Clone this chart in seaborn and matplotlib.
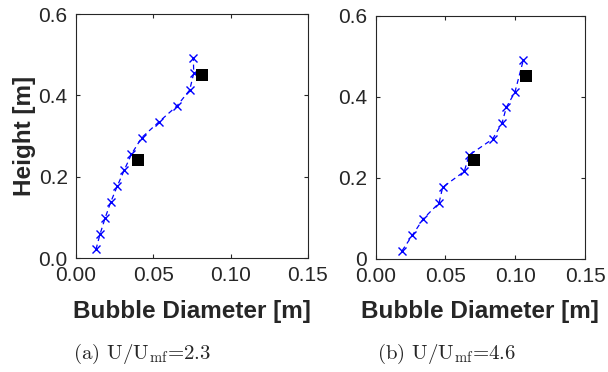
import numpy as np
import pandas as pd
import matplotlib
matplotlib.use("Agg")
import matplotlib.pyplot as plt
import seaborn as sns

# Panel (a) U/Umf = 2.3 : simulation (crosses)
sim_a_d = [0.0129, 0.0155, 0.0188, 0.0224, 0.0267, 0.0312, 0.0358, 0.0425, 0.0534, 0.0653, 0.0735, 0.0761, 0.0759]
sim_a_h = [0.021, 0.058, 0.098, 0.137, 0.177, 0.216, 0.255, 0.296, 0.334, 0.374, 0.413, 0.454, 0.491]
# Panel (a) experiment (squares)
exp_a_d = [0.0403, 0.0813]
exp_a_h = [0.241, 0.450]

# Panel (b) U/Umf = 4.6
sim_b_d = [0.0189, 0.0262, 0.0341, 0.0454, 0.0480, 0.0635, 0.0669, 0.0838, 0.0905, 0.0936, 0.0998, 0.1058]
sim_b_h = [0.019, 0.057, 0.098, 0.137, 0.176, 0.215, 0.255, 0.295, 0.334, 0.373, 0.411, 0.490]
exp_b_d = [0.0707, 0.1075]
exp_b_h = [0.243, 0.450]

x_ticks = [0.00, 0.05, 0.10, 0.15]
x_ticklabels = ["0.00", "0.05", "0.10", "0.15"]
y_ticks = [0.0, 0.2, 0.4, 0.6]
y_ticklabels_a = ["0.0", "0.2", "0.4", "0.6"]
y_ticklabels_b = ["0", "0.2", "0.4", "0.6"]
captions = ["(a) U/U$_{\\rm mf}$=2.3", "(b) U/U$_{\\rm mf}$=4.6"]

sns.set_style("ticks")
plt.rcParams['font.family'] = ['Liberation Sans', 'DejaVu Sans']
plt.rcParams['mathtext.fontset'] = 'cm'

TXT = "#262626"
fig = plt.figure(figsize=(6.08, 3.72), dpi=100)
ax_a = fig.add_axes([76/608, 1-258/372, 232/608, 244/372])
ax_b = fig.add_axes([375.7/608, 1-258.5/372, 209.3/608, 243/372])

panels = [
    (ax_a, sim_a_d, sim_a_h, exp_a_d, exp_a_h, y_ticklabels_a),
    (ax_b, sim_b_d, sim_b_h, exp_b_d, exp_b_h, y_ticklabels_b),
]

for ax, sd, sh, ed, eh, ytl in panels:
    sim = pd.DataFrame({"d": sd, "h": sh})
    exp = pd.DataFrame({"d": ed, "h": eh})
    sns.lineplot(data=sim, x="d", y="h", sort=False, ax=ax, color=(0, 0, 1),
                 linestyle=(0, (4, 3)), linewidth=0.9, marker="x", markersize=6,
                 markeredgewidth=1.0, markeredgecolor=(0, 0, 1))
    sns.scatterplot(data=exp, x="d", y="h", ax=ax, color="black", marker="s",
                    s=64, edgecolor="black", linewidth=0, zorder=3)
    ax.set_xlim(0, 0.15)
    ax.set_ylim(0, 0.6)
    ax.set_xticks(x_ticks)
    ax.set_xticklabels(x_ticklabels)
    ax.set_yticks(y_ticks)
    ax.set_yticklabels(ytl)
    ax.tick_params(direction="in", length=3, width=0.8, color=TXT,
                   labelsize=15, labelcolor=TXT, top=True, right=True)
    ax.tick_params(axis="x", pad=6)
    ax.tick_params(axis="y", pad=6)
    for sp in ax.spines.values():
        sp.set_visible(True)
        sp.set_color(TXT)
        sp.set_linewidth(0.8)
    ax.set_xlabel("Bubble Diameter [m]", fontsize=17.5, fontweight="bold", color=TXT)
    ax.xaxis.set_label_coords(0.5, -(300 - 258) / 244)
    ax.set_ylabel("")

ax_a.set_ylabel("Height [m]", fontsize=17.5, fontweight="bold", color=TXT)
ax_a.yaxis.set_label_coords(-(76 - 36) / 232, 0.5)

fig.text(142/608, 1-359/372, captions[0], family="cmr10", fontsize=15, ha="center", va="baseline")
fig.text(447/608, 1-359/372, captions[1], family="cmr10", fontsize=15, ha="center", va="baseline")

fig.savefig("out.png", dpi=100)
